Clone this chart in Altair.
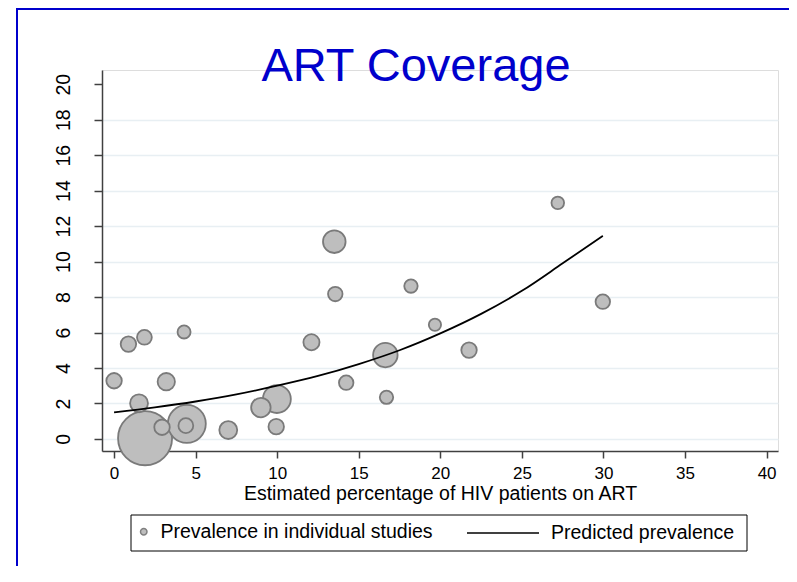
import altair as alt
import pandas as pd

# ---- data ----
art_pct = [0.0, 1.53, 1.9, 3.2, 2.94, 4.4, 4.46, 7.0, 9.0, 9.98, 9.94, 14.23, 16.7,
           27.2, 13.5, 13.56, 18.2, 29.96, 12.1, 19.67, 16.63, 21.76, 0.88, 1.86, 4.29]
prevalence = [3.28, 2.01, 0.04, 3.23, 0.66, 0.75, 0.85, 0.5, 1.77, 2.25, 0.69, 3.17, 2.35,
              13.31, 11.12, 8.17, 8.62, 7.74, 5.45, 6.44, 4.73, 5.01, 5.35, 5.73, 6.03]
study_weight = [24, 32, 292, 30, 24, 22, 144, 32, 38, 78, 24, 21, 18,
                16, 51, 21, 18, 21, 26, 15, 60, 24, 24, 22, 17]

fit_x = [0, 2.5, 5, 7.5, 10, 12.5, 15, 17.5, 20, 22.5, 25, 27.5, 29.96]
fit_y = [1.50, 1.78, 2.11, 2.51, 3.00, 3.55, 4.22, 5.00, 5.95, 7.05, 8.35, 9.90, 11.45]

x_ticks = [0, 5, 10, 15, 20, 25, 30, 35, 40]
y_ticks = [0, 2, 4, 6, 8, 10, 12, 14, 16, 18, 20]

S_POINTS = "Prevalence in individual studies"
S_LINE = "Predicted prevalence"
TITLE = "ART Coverage"
X_TITLE = "Estimated percentage of HIV patients on ART"

pts = pd.DataFrame({"art": art_pct, "prev": prevalence, "weight": study_weight, "series": S_POINTS})
fit = pd.DataFrame({"art": fit_x, "prev": fit_y, "series": S_LINE})
one = pd.DataFrame({"k": [0]})

FONT = "Liberation Sans"
AX = "#404040"

xscale = alt.Scale(domain=[-0.74, 40.7], nice=False, zero=False)
yscale = alt.Scale(domain=[-0.68, 20.8], nice=False, zero=False)

xaxis = alt.Axis(values=x_ticks, tickCount=20, title=X_TITLE, grid=False,
                 domainColor=AX, domainWidth=1.5, tickColor=AX, tickWidth=1.5, tickSize=7,
                 labelFont=FONT, labelFontSize=17, labelColor="black", labelPadding=7,
                 labelFlush=False, labelOverlap=False,
                 titleFont=FONT, titleFontSize=19.5, titleFontWeight="normal", titleColor="black",
                 titleBaseline="alphabetic", titleY=48)

yaxis = alt.Axis(values=y_ticks, tickCount=20, title=None, grid=True, gridColor="#e8eff3", gridWidth=1.5,
                 gridOpacity=alt.condition("datum.value === 20", alt.value(0), alt.value(1)),
                 domainColor=AX, domainWidth=1.5, tickColor=AX, tickWidth=1.5, tickSize=8,
                 labelFont=FONT, labelFontSize=19.5, labelColor="black",
                 labelAngle=270, labelAlign="center", labelBaseline="alphabetic",
                 labelPadding=25, labelFlush=False, labelOverlap=False)

frame = alt.Chart(one).mark_rect(filled=False, stroke="#0000cc", strokeWidth=2).encode(
    x=alt.value(-85), x2=alt.value(760), y=alt.value(-61), y2=alt.value(560))

box = alt.Chart(one).mark_rect(filled=False, stroke="black", strokeWidth=1).encode(
    x=alt.value(29), x2=alt.value(645), y=alt.value(445), y2=alt.value(481))

points = alt.Chart(pts).mark_circle(opacity=1, stroke="#7a7a7a", strokeWidth=1.8).encode(
    x=alt.X("art:Q", scale=xscale, axis=xaxis),
    y=alt.Y("prev:Q", scale=yscale, axis=yaxis),
    size=alt.Size("weight:Q", scale=alt.Scale(domain=[0, 300], range=[0, 3000], zero=True), legend=None),
    fill=alt.Fill("series:N", scale=alt.Scale(domain=[S_POINTS], range=["#bebebe"]),
                  legend=alt.Legend(orient="none", legendX=32, legendY=452, title=None,
                                    symbolType="circle", symbolSize=42, symbolStrokeColor="#808080",
                                    symbolStrokeWidth=1.5, symbolOpacity=1,
                                    labelFont=FONT, labelFontSize=19.5, labelColor="black",
                                    labelLimit=500, labelOffset=7, padding=0)),
    order=alt.Order("weight:Q", sort="descending"),
)

line = alt.Chart(fit).mark_line(strokeWidth=1.8, interpolate="monotone").encode(
    x=alt.X("art:Q", scale=xscale),
    y=alt.Y("prev:Q", scale=yscale),
    stroke=alt.Stroke("series:N", scale=alt.Scale(domain=[S_LINE], range=["black"]),
                      legend=alt.Legend(orient="none", legendX=364, legendY=426, title=None,
                                        symbolType="stroke", symbolSize=5184, symbolStrokeWidth=1.5,
                                        labelFont=FONT, labelFontSize=19.5, labelColor="black",
                                        labelLimit=500, labelOffset=11, padding=0)),
)

chart = alt.layer(frame, box, points, line).resolve_scale(fill="independent", stroke="independent").properties(
    width=676, height=381,
    autosize=alt.AutoSizeParams(type="none"),
    padding={"left": 94, "top": 62, "right": 11, "bottom": 115},
    title=alt.TitleParams(TITLE, font=FONT, fontSize=47, fontWeight="normal", color="#0000cc",
                          anchor="middle", frame="group", baseline="alphabetic",
                          offset=-120, dx=-24),
).configure_view(stroke=None).configure(background="white")

chart.save("out.html", embed_options={"renderer": "svg", "actions": False})
